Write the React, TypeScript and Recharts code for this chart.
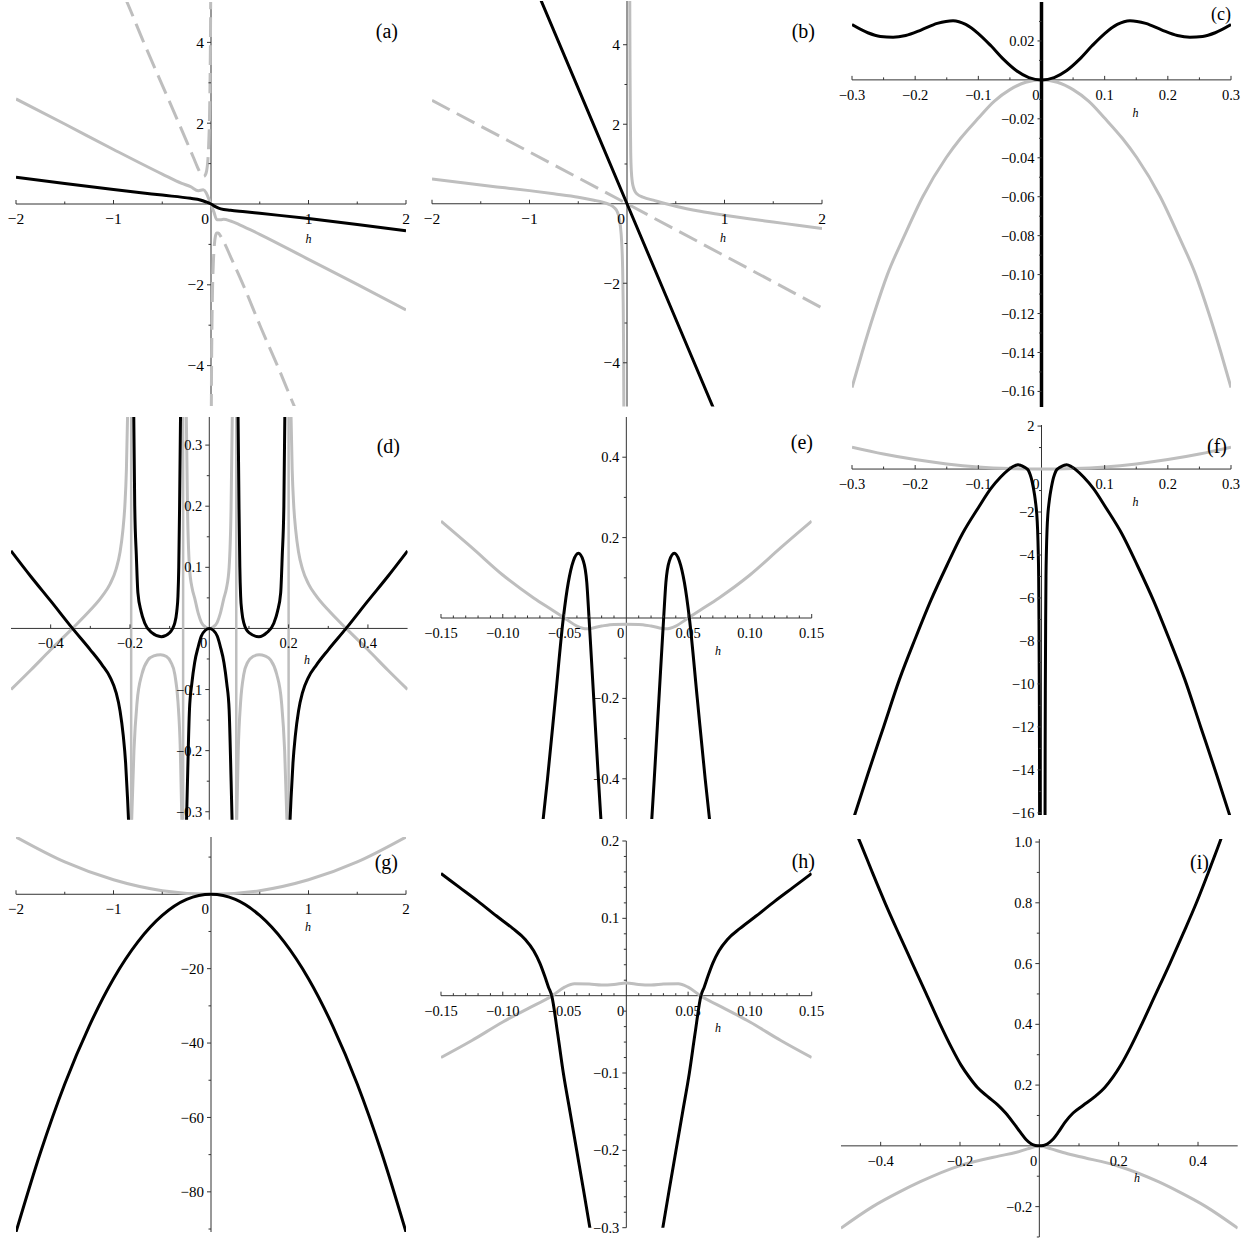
import React from 'react';
import { LineChart, Line, XAxis, YAxis, ReferenceLine } from 'recharts';

type XY = [number, number];

// ---------------- Panel (a) ----------------
const A_BLACK: XY[] = [[-2,0.66],[-1.5,0.51],[-1,0.36],[-0.5,0.22],[-0.21,0.14],[-0.11,0.1],[-0.05,0.05],[0,0],[0.05,-0.07],[0.1,-0.12],[0.2,-0.155],[0.35,-0.19],[0.5,-0.23],[1,-0.36],[1.5,-0.51],[2,-0.66]];
const A_GRAY: XY[] = [[-2,2.6],[-1.5,1.98],[-1,1.35],[-0.5,0.74],[-0.3,0.51],[-0.21,0.43],[-0.13,0.33],[-0.08,0.35],[-0.05,0.28],[-0.03,0.17],[0,0],[0.03,-0.2],[0.06,-0.39],[0.1,-0.39],[0.13,-0.38],[0.2,-0.42],[0.3,-0.52],[0.5,-0.75],[1,-1.37],[1.5,-1.99],[2,-2.62]];
const A_DASH_UP: XY[] = [[-0.88,5.1],[-0.862,5.0],[-0.69,4.0],[-0.51,3.0],[-0.33,2.0],[-0.25,1.55],[-0.18,1.15],[-0.14,0.92],[-0.11,0.77],[-0.09,0.7],[-0.075,0.68],[-0.06,0.71],[-0.045,0.82],[-0.035,1.0],[-0.025,1.4],[-0.015,2.2],[-0.009,3.2],[-0.005,4.3],[-0.003,5.2]];
const A_DASH_DN: XY[] = [[0.003,-5.2],[0.005,-4.3],[0.009,-3.2],[0.015,-2.2],[0.025,-1.4],[0.035,-1.0],[0.045,-0.8],[0.06,-0.72],[0.075,-0.72],[0.1,-0.8],[0.14,-0.98],[0.2,-1.3],[0.33,-2.0],[0.51,-3.05],[0.69,-4.05],[0.862,-5.05],[0.88,-5.15]];

// ---------------- Panel (b) ----------------
const B_BLACK: XY[] = [[-0.9,5.22],[0,0],[0.9,-5.22]];
const B_DASH: XY[] = [[-2,2.6],[0,0],[2,-2.62]];
const B_GRAY_L: XY[] = [[-2,0.62],[-1.75,0.545],[-1.5,0.47],[-1.25,0.4],[-1,0.33],[-0.75,0.25],[-0.5,0.165],[-0.34,0.09],[-0.25,0.04],[-0.2,0.0],[-0.17,-0.03],[-0.13,-0.1],[-0.1,-0.2],[-0.08,-0.36],[-0.068,-0.56],[-0.055,-0.95],[-0.045,-1.6],[-0.039,-2.5],[-0.035,-3.6],[-0.032,-5.3]];
const B_GRAY_R: XY[] = [[0.028,5.3],[0.031,3.4],[0.034,2.2],[0.038,1.3],[0.045,0.8],[0.06,0.47],[0.1,0.25],[0.17,0.16],[0.27,0.09],[0.4,0.0],[0.51,-0.07],[0.75,-0.19],[1,-0.29],[1.25,-0.38],[1.5,-0.46],[1.75,-0.54],[2,-0.62]];

// ---------------- Panel (c) ----------------
const C_BLACK: XY[] = [[-0.3,0.0284],[-0.275,0.0242],[-0.255,0.0223],[-0.235,0.0219],[-0.215,0.0228],[-0.19,0.0257],[-0.165,0.029],[-0.14,0.0304],[-0.12,0.0285],[-0.1,0.0238],[-0.08,0.0175],[-0.06,0.0105],[-0.04,0.0048],[-0.02,0.0012],[0,0],[0.02,0.0012],[0.04,0.0048],[0.06,0.0105],[0.08,0.0175],[0.1,0.0238],[0.12,0.0285],[0.14,0.0304],[0.165,0.029],[0.19,0.0257],[0.215,0.0228],[0.235,0.0219],[0.255,0.0223],[0.275,0.0242],[0.3,0.0284]];
const C_GRAY: XY[] = [[-0.3,-0.158],[-0.284,-0.14],[-0.265,-0.12],[-0.244,-0.1],[-0.217,-0.08],[-0.188,-0.06],[-0.151,-0.04],[-0.128,-0.03],[-0.101,-0.02],[-0.075,-0.011],[-0.05,-0.005],[-0.025,-0.0012],[0,0],[0.025,-0.0012],[0.05,-0.005],[0.075,-0.011],[0.101,-0.02],[0.128,-0.03],[0.151,-0.04],[0.188,-0.06],[0.217,-0.08],[0.244,-0.1],[0.265,-0.12],[0.284,-0.14],[0.3,-0.158]];
const C_VERT: XY[] = [[0,-0.17],[0,0.042]];

// ---------------- Panel (d) ----------------
const D_BLACK_L: XY[] = [[-0.5,0.127],[-0.45,0.085],[-0.4,0.045],[-0.345,0],[-0.3,-0.035],[-0.27,-0.06],[-0.25,-0.08],[-0.235,-0.105],[-0.225,-0.135],[-0.217,-0.175],[-0.211,-0.22],[-0.206,-0.28],[-0.2025,-0.33]];
const D_BLACK_R: XY[] = [[0.2025,-0.33],[0.206,-0.28],[0.211,-0.22],[0.217,-0.175],[0.225,-0.135],[0.235,-0.105],[0.25,-0.08],[0.27,-0.06],[0.3,-0.035],[0.345,0],[0.4,0.045],[0.45,0.085],[0.5,0.127]];
const D_BLACK_UL: XY[] = [[-0.1905,0.35],[-0.188,0.2],[-0.184,0.12],[-0.18,0.058],[-0.172,0.028],[-0.163,0.009],[-0.145,-0.007],[-0.121,-0.0136],[-0.1,-0.007],[-0.087,0.009],[-0.082,0.028],[-0.079,0.053],[-0.077,0.1],[-0.075,0.195],[-0.0725,0.35]];
const D_BLACK_UR: XY[] = [[0.0725,0.35],[0.075,0.195],[0.077,0.1],[0.079,0.053],[0.082,0.028],[0.087,0.009],[0.1,-0.007],[0.125,-0.0136],[0.145,-0.007],[0.163,0.009],[0.172,0.028],[0.18,0.058],[0.184,0.12],[0.188,0.2],[0.1905,0.35]];
const D_BLACK_C: XY[] = [[-0.058,-0.33],[-0.055,-0.25],[-0.05,-0.133],[-0.044,-0.09],[-0.037,-0.056],[-0.028,-0.03],[-0.02,-0.0125],[-0.01,-0.003],[0,0],[0.01,-0.003],[0.02,-0.0125],[0.028,-0.03],[0.037,-0.056],[0.044,-0.09],[0.05,-0.133],[0.055,-0.25],[0.058,-0.33]];
const D_GRAY_L: XY[] = [[-0.5,-0.1],[-0.45,-0.068],[-0.4,-0.035],[-0.345,0],[-0.3,0.03],[-0.27,0.053],[-0.25,0.073],[-0.235,0.097],[-0.225,0.125],[-0.218,0.16],[-0.213,0.2],[-0.209,0.26],[-0.206,0.35]];
const D_GRAY_R: XY[] = [[0.206,0.35],[0.209,0.26],[0.213,0.2],[0.218,0.16],[0.225,0.125],[0.235,0.097],[0.25,0.073],[0.27,0.053],[0.3,0.03],[0.345,0],[0.4,-0.035],[0.45,-0.068],[0.5,-0.1]];
const D_GRAY_HL: XY[] = [[-0.196,-0.32],[-0.19,-0.2],[-0.182,-0.12],[-0.17,-0.075],[-0.155,-0.052],[-0.14,-0.045],[-0.123,-0.043],[-0.108,-0.046],[-0.097,-0.055],[-0.087,-0.075],[-0.079,-0.12],[-0.073,-0.2],[-0.069,-0.32]];
const D_GRAY_HR: XY[] = [[0.069,-0.32],[0.073,-0.2],[0.079,-0.12],[0.087,-0.075],[0.097,-0.055],[0.11,-0.046],[0.126,-0.043],[0.14,-0.045],[0.155,-0.052],[0.17,-0.075],[0.182,-0.12],[0.19,-0.2],[0.196,-0.32]];
const D_GRAY_C: XY[] = [[-0.058,0.35],[-0.055,0.2],[-0.05,0.1],[-0.043,0.065],[-0.037,0.05],[-0.028,0.025],[-0.02,0.01],[-0.01,0.0025],[0,0],[0.01,0.0025],[0.02,0.01],[0.028,0.025],[0.037,0.05],[0.043,0.065],[0.05,0.1],[0.055,0.2],[0.058,0.35]];
const D_ASYMPTOTES: number[] = [-0.197, -0.066, 0.068, 0.2];

// ---------------- Panel (e) ----------------
const E_GRAY: XY[] = [[-0.15,0.241],[-0.125,0.175],[-0.1,0.107],[-0.075,0.05],[-0.06,0.02],[-0.05,0],[-0.04,-0.02],[-0.032,-0.027],[-0.02,-0.02],[-0.01,-0.016],[0,-0.0155],[0.01,-0.016],[0.02,-0.02],[0.032,-0.027],[0.04,-0.02],[0.05,0],[0.06,0.02],[0.075,0.05],[0.1,0.107],[0.125,0.175],[0.15,0.241]];
const E_BLACK_L: XY[] = [[-0.068,-0.52],[-0.0638,-0.4],[-0.0574,-0.2],[-0.051,0],[-0.047,0.088],[-0.0429,0.142],[-0.0388,0.161],[-0.0348,0.142],[-0.032,0.088],[-0.0302,0],[-0.0264,-0.2],[-0.0226,-0.4],[-0.0202,-0.52]];
const E_BLACK_R: XY[] = [[0.0202,-0.52],[0.0226,-0.4],[0.0264,-0.2],[0.0302,0],[0.032,0.088],[0.0348,0.142],[0.0388,0.161],[0.0429,0.142],[0.047,0.088],[0.051,0],[0.0574,-0.2],[0.0638,-0.4],[0.068,-0.52]];

// ---------------- Panel (f) ----------------
const F_GRAY: XY[] = [[-0.3,1.02],[-0.25,0.7],[-0.2,0.44],[-0.15,0.24],[-0.1,0.1],[-0.05,0.025],[0,0],[0.05,0.025],[0.1,0.1],[0.15,0.24],[0.2,0.44],[0.25,0.7],[0.3,1.02]];
const F_BLACK_L: XY[] = [[-0.298,-16.3],[-0.275,-14.2],[-0.25,-12],[-0.225,-9.8],[-0.2,-7.9],[-0.175,-6.1],[-0.15,-4.5],[-0.125,-3.0],[-0.1,-1.8],[-0.08,-0.9],[-0.065,-0.38],[-0.053,-0.05],[-0.045,0.12],[-0.037,0.2],[-0.033,0.17],[-0.028,0.1],[-0.024,0.03],[-0.021,-0.05],[-0.018,-0.25],[-0.0155,-0.5],[-0.0133,-0.81],[-0.011,-1.2],[-0.0092,-1.6],[-0.0075,-2.1],[-0.0062,-2.8],[-0.0052,-3.8],[-0.0045,-5],[-0.004,-7],[-0.0035,-10],[-0.0032,-13],[-0.003,-16.3]];
const F_BLACK_R: XY[] = [[0.0056,-16.3],[0.0058,-13],[0.0061,-10],[0.0066,-7],[0.0071,-5],[0.0078,-3.8],[0.0088,-2.8],[0.0101,-2.1],[0.0118,-1.6],[0.0136,-1.2],[0.0159,-0.81],[0.0181,-0.5],[0.0206,-0.25],[0.0236,-0.05],[0.0266,0.03],[0.0306,0.1],[0.0356,0.17],[0.0396,0.2],[0.047,0.12],[0.055,-0.05],[0.067,-0.38],[0.082,-0.9],[0.102,-1.8],[0.127,-3.0],[0.152,-4.5],[0.177,-6.1],[0.202,-7.9],[0.227,-9.8],[0.252,-12],[0.277,-14.2],[0.3,-16.3]];

// ---------------- Panel (g) ----------------
const G_GRAY: XY[] = [[-2,15.4],[-1.5,8.7],[-1,3.9],[-0.5,0.97],[0,0],[0.5,0.97],[1,3.9],[1.5,8.7],[2,15.4]];
const G_BLACK: XY[] = [[-2,-90.8],[-1.75,-69.5],[-1.5,-51],[-1.25,-35.5],[-1,-22.7],[-0.75,-12.8],[-0.5,-5.7],[-0.25,-1.4],[0,0],[0.25,-1.4],[0.5,-5.7],[0.75,-12.8],[1,-22.7],[1.25,-35.5],[1.5,-51],[1.75,-69.5],[2,-90.8]];

// ---------------- Panel (h) ----------------
const H_GRAY: XY[] = [[-0.15,-0.08],[-0.125,-0.058],[-0.1,-0.034],[-0.08,-0.017],[-0.06,0],[-0.05,0.011],[-0.042,0.0155],[-0.03,0.015],[-0.02,0.0138],[-0.01,0.0145],[0,0.0164],[0.01,0.0145],[0.02,0.0138],[0.03,0.015],[0.042,0.0155],[0.05,0.011],[0.06,0],[0.08,-0.017],[0.1,-0.034],[0.125,-0.058],[0.15,-0.08]];
const H_BLACK_L: XY[] = [[-0.15,0.158],[-0.135,0.14],[-0.12,0.122],[-0.105,0.103],[-0.092,0.087],[-0.082,0.073],[-0.075,0.058],[-0.07,0.042],[-0.066,0.025],[-0.063,0.011],[-0.0604,0],[-0.0555,-0.05],[-0.051,-0.1],[-0.0456,-0.15],[-0.0402,-0.2],[-0.0348,-0.25],[-0.029,-0.305]];
const H_BLACK_R: XY[] = [[0.029,-0.305],[0.0348,-0.25],[0.0402,-0.2],[0.0456,-0.15],[0.051,-0.1],[0.0555,-0.05],[0.0604,0],[0.063,0.011],[0.066,0.025],[0.07,0.042],[0.075,0.058],[0.082,0.073],[0.092,0.087],[0.105,0.103],[0.12,0.122],[0.135,0.14],[0.15,0.158]];

// ---------------- Panel (i) ----------------
const I_GRAY: XY[] = [[-0.5,-0.271],[-0.42,-0.2],[-0.35,-0.15],[-0.3,-0.118],[-0.2,-0.065],[-0.1,-0.033],[-0.06,-0.022],[-0.03,-0.01],[0,0],[0.03,-0.01],[0.06,-0.022],[0.1,-0.035],[0.2,-0.067],[0.3,-0.118],[0.35,-0.15],[0.42,-0.2],[0.5,-0.271]];
const I_BLACK: XY[] = [[-0.47,1.055],[-0.452,1.0],[-0.421,0.9],[-0.389,0.8],[-0.355,0.7],[-0.32,0.6],[-0.285,0.5],[-0.25,0.4],[-0.222,0.325],[-0.197,0.265],[-0.176,0.225],[-0.156,0.192],[-0.13,0.162],[-0.105,0.135],[-0.085,0.108],[-0.065,0.075],[-0.048,0.045],[-0.033,0.02],[-0.02,0.006],[-0.01,0.0012],[0,0],[0.01,0.0012],[0.02,0.006],[0.033,0.02],[0.048,0.045],[0.065,0.078],[0.085,0.108],[0.11,0.133],[0.14,0.162],[0.165,0.192],[0.185,0.225],[0.205,0.265],[0.23,0.325],[0.258,0.4],[0.29,0.49],[0.329,0.6],[0.363,0.7],[0.396,0.8],[0.426,0.9],[0.455,1.0],[0.47,1.055]];

// ---------------- Ticks ----------------
const X_MAJ_2 = [-2, -1, 0, 1, 2];
const X_MIN_2 = [-1.5, -0.5, 0.5, 1.5];
const X_MAJ_03 = [-0.3, -0.2, -0.1, 0, 0.1, 0.2, 0.3];
const X_MIN_03 = [-0.25, -0.15, -0.05, 0.05, 0.15, 0.25];
const X_MAJ_05 = [-0.4, -0.2, 0, 0.2, 0.4];
const X_MIN_05 = [-0.3, -0.1, 0.1, 0.3];
const X_MAJ_015 = [-0.15, -0.1, -0.05, 0, 0.05, 0.1, 0.15];
const X_MIN_015 = [-0.14,-0.13,-0.12,-0.11,-0.09,-0.08,-0.07,-0.06,-0.04,-0.03,-0.02,-0.01,0.01,0.02,0.03,0.04,0.06,0.07,0.08,0.09,0.11,0.12,0.13,0.14];
const Y_MAJ_A = [-4, -2, 2, 4];
const Y_MIN_A = [-3, -1, 1, 3];
const Y_MAJ_C = [0.02, -0.02, -0.04, -0.06, -0.08, -0.1, -0.12, -0.14, -0.16];
const Y_MIN_C = [0.03, 0.01, -0.01, -0.03, -0.05, -0.07, -0.09, -0.11, -0.13, -0.15];
const Y_MAJ_D = [0.3, 0.2, 0.1, -0.1, -0.2, -0.3];
const Y_MIN_D = [0.25, 0.15, 0.05, -0.05, -0.15, -0.25];
const Y_MAJ_E = [0.4, 0.2, -0.2, -0.4];
const Y_MIN_E = [0.3, 0.1, -0.1, -0.3];
const Y_MAJ_F = [2, -2, -4, -6, -8, -10, -12, -14, -16];
const Y_MIN_F = [1, -1, -3, -5, -7, -9, -11, -13, -15];
const Y_MAJ_G = [-20, -40, -60, -80];
const Y_MIN_G = [10, -10, -30, -50, -70, -90];
const Y_MAJ_H = [0.2, 0.1, -0.1, -0.2, -0.3];
const Y_MIN_H = [0.18,0.16,0.14,0.12,0.08,0.06,0.04,0.02,-0.02,-0.04,-0.06,-0.08,-0.12,-0.14,-0.16,-0.18,-0.22,-0.24,-0.26,-0.28];
const Y_MAJ_I = [1, 0.8, 0.6, 0.4, 0.2, -0.2];
const Y_MIN_I = [0.9, 0.7, 0.5, 0.3, 0.1, -0.1, -0.3];

const TAGS = ['(a)', '(b)', '(c)', '(d)', '(e)', '(f)', '(g)', '(h)', '(i)'];

// ---------------- Styling ----------------
const FONT = '"Liberation Serif", "Times New Roman", "DejaVu Serif", serif';
const BLACK = '#000000';
const GRAY = '#bebebe';
const AXIS = '#333333';
const DASH = '20 8';

type Series = { data: XY[]; color: string; width: number; dash?: string; linear?: boolean };
type Spec = {
  box: [number, number, number, number];
  xDomain: [number, number];
  yDomain: [number, number];
  xMajor: number[]; xMinor: number[];
  yMajor: number[]; yMinor: number[];
  xDec: number; yDec: number; fs: number;
  series: Series[];
  tag: [number, number, number];
  h: [number, number];
};

const g = (data: XY[], dash?: string): Series => ({ data, color: GRAY, width: 3, dash });
const k = (data: XY[]): Series => ({ data, color: BLACK, width: 3 });

const PANELS: Spec[] = [
  { box: [16, 2, 406, 406], xDomain: [-2, 2], yDomain: [-5, 5], xMajor: X_MAJ_2, xMinor: X_MIN_2, yMajor: Y_MAJ_A, yMinor: Y_MIN_A, xDec: 0, yDec: 0, fs: 15.5,
    series: [g(A_DASH_UP, DASH), g(A_DASH_DN, DASH), g(A_GRAY), k(A_BLACK)], tag: [398, 38, 20], h: [308.5, 243] },
  { box: [431.7, 1, 821.7, 406.5], xDomain: [-2, 2], yDomain: [-5.1, 5.1], xMajor: X_MAJ_2, xMinor: X_MIN_2, yMajor: Y_MAJ_A, yMinor: Y_MIN_A, xDec: 0, yDec: 0, fs: 15.5,
    series: [g(B_DASH, DASH), g(B_GRAY_L), g(B_GRAY_R), k(B_BLACK)], tag: [815, 37.5, 20], h: [723, 242] },
  { box: [852.3, 1.7, 1231.3, 406.7], xDomain: [-0.3, 0.3], yDomain: [-0.168, 0.04], xMajor: X_MAJ_03, xMinor: X_MIN_03, yMajor: Y_MAJ_C, yMinor: Y_MIN_C, xDec: 1, yDec: 2, fs: 14.5,
    series: [g(C_GRAY), k(C_BLACK), { data: C_VERT, color: BLACK, width: 3.5, linear: true }], tag: [1231, 20, 18], h: [1135.5, 117] },
  { box: [10.7, 417.3, 407.3, 820], xDomain: [-0.5, 0.5], yDomain: [-0.313, 0.346], xMajor: X_MAJ_05, xMinor: X_MIN_05, yMajor: Y_MAJ_D, yMinor: Y_MIN_D, xDec: 1, yDec: 1, fs: 14.5,
    series: [
      ...D_ASYMPTOTES.map((a): Series => ({ data: [[a, -0.313], [a, 0.346]], color: GRAY, width: 2.5, linear: true })),
      g(D_GRAY_L), g(D_GRAY_R), g(D_GRAY_HL), g(D_GRAY_HR), g(D_GRAY_C),
      k(D_BLACK_L), k(D_BLACK_R), k(D_BLACK_UL), k(D_BLACK_UR), k(D_BLACK_C)],
    tag: [400, 452.5, 20], h: [307, 664] },
  { box: [441, 417.3, 811.7, 819.3], xDomain: [-0.15, 0.15], yDomain: [-0.5, 0.5], xMajor: X_MAJ_015, xMinor: X_MIN_015, yMajor: Y_MAJ_E, yMinor: Y_MIN_E, xDec: 2, yDec: 1, fs: 14.5,
    series: [g(E_GRAY), k(E_BLACK_L), k(E_BLACK_R)], tag: [813, 449, 20], h: [718, 654.5] },
  { box: [852.3, 425, 1231.3, 815], xDomain: [-0.3, 0.3], yDomain: [-16.1, 2.05], xMajor: X_MAJ_03, xMinor: X_MIN_03, yMajor: Y_MAJ_F, yMinor: Y_MIN_F, xDec: 1, yDec: 0, fs: 14.5,
    series: [g(F_GRAY), k(F_BLACK_L), k(F_BLACK_R)], tag: [1227, 452.5, 20], h: [1135.5, 505.5] },
  { box: [16, 836.7, 406, 1231.7], xDomain: [-2, 2], yDomain: [-90.8, 15.4], xMajor: X_MAJ_2, xMinor: X_MIN_2, yMajor: Y_MAJ_G, yMinor: Y_MIN_G, xDec: 0, yDec: 0, fs: 15,
    series: [g(G_GRAY), k(G_BLACK)], tag: [398, 869, 20], h: [308, 930.5] },
  { box: [441, 841, 811.7, 1227.7], xDomain: [-0.15, 0.15], yDomain: [-0.3, 0.2], xMajor: X_MAJ_015, xMinor: X_MIN_015, yMajor: Y_MAJ_H, yMinor: Y_MIN_H, xDec: 2, yDec: 1, fs: 14.5,
    series: [g(H_GRAY), k(H_BLACK_L), k(H_BLACK_R)], tag: [815, 867.5, 20], h: [718, 1032] },
  { box: [841.3, 838.7, 1238, 1236.7], xDomain: [-0.5, 0.5], yDomain: [-0.3, 1.01], xMajor: X_MAJ_05, xMinor: X_MIN_05, yMajor: Y_MAJ_I, yMinor: Y_MIN_I, xDec: 1, yDec: 1, fs: 14.5,
    series: [g(I_GRAY), k(I_BLACK)], tag: [1209, 869, 20], h: [1137, 1182] },
];

const fmt = (v: number, d: number) => (v === 0 ? '0' : (v < 0 ? '\u2212' : '') + Math.abs(v).toFixed(d));
const near = (v: number, arr: number[]) => arr.some((m) => Math.abs(m - v) < 1e-9);

function Panel({ p }: { p: Spec }) {
  const PL = 50, PR = 20, PT = 10, PB = 30;
  const [l, t, r, b] = p.box;
  const w = r - l, h = b - t;
  const [xa, xb] = p.xDomain;
  const [ya, yb] = p.yDomain;
  const zy = PT + (yb / (yb - ya)) * h;
  const zx = PL + (-xa / (xb - xa)) * w;
  const xTicks = [...p.xMajor, ...p.xMinor].sort((m, n) => m - n);
  const yTicks = [...p.yMajor, ...p.yMinor].sort((m, n) => m - n);

  const XTick = (props: any) => {
    const { x, payload } = props;
    const v = payload.value as number;
    const major = near(v, p.xMajor);
    return (
      <g>
        {v !== 0 && <line x1={x} x2={x} y1={zy} y2={zy - (major ? 4 : 2.5)} stroke={AXIS} strokeWidth={1} />}
        {major && (
          <text x={v === 0 ? x - 2 : x} y={zy + 20} textAnchor={v === 0 ? 'end' : 'middle'} fontFamily={FONT} fontSize={p.fs} fill="#000">
            {fmt(v, p.xDec)}
          </text>
        )}
      </g>
    );
  };
  const YTick = (props: any) => {
    const { y, payload } = props;
    const v = payload.value as number;
    const major = near(v, p.yMajor);
    return (
      <g>
        <line x1={zx} x2={zx - (major ? 4 : 2.5)} y1={y} y2={y} stroke={AXIS} strokeWidth={1} />
        {major && (
          <text x={zx - 7} y={y} dy="0.35em" textAnchor="end" fontFamily={FONT} fontSize={p.fs} fill="#000">
            {fmt(v, p.yDec)}
          </text>
        )}
      </g>
    );
  };

  return (
    <div style={{ position: 'absolute', left: l - PL, top: t - PT }}>
      <LineChart width={w + PL + PR} height={h + PT + PB} margin={{ top: PT, right: PR, bottom: PB - 1, left: PL - 1 }}>
        <XAxis type="number" dataKey="x" domain={p.xDomain} allowDataOverflow ticks={xTicks} interval={0}
          tick={XTick} tickLine={false} axisLine={false} height={1} />
        <YAxis type="number" domain={p.yDomain} allowDataOverflow ticks={yTicks} interval={0}
          tick={YTick} tickLine={false} axisLine={false} width={1} />
        <ReferenceLine y={0} stroke={AXIS} strokeWidth={1} />
        <ReferenceLine x={0} stroke={AXIS} strokeWidth={1} />
        {p.series.map((s, i) => (
          <Line key={i} data={s.data.map(([x, y]) => ({ x, y }))} dataKey="y" type={s.linear ? 'linear' : 'monotone'}
            stroke={s.color} strokeWidth={s.width} strokeDasharray={s.dash} dot={false} activeDot={false}
            isAnimationActive={false} />
        ))}
      </LineChart>
    </div>
  );
}

export default function App() {
  return (
    <div style={{ position: 'absolute', left: 0, top: 0, width: 1254, height: 1238, background: '#fff', overflow: 'hidden' }}>
      {PANELS.map((p, i) => (
        <Panel key={i} p={p} />
      ))}
      <svg width={1254} height={1238} style={{ position: 'absolute', left: 0, top: 0, pointerEvents: 'none' }}>
        {PANELS.map((p, i) => (
          <g key={i}>
            <text x={p.tag[0]} y={p.tag[1]} textAnchor="end" fontFamily={FONT} fontSize={p.tag[2]} fill="#000">{TAGS[i]}</text>
            <text x={p.h[0]} y={p.h[1]} textAnchor="middle" fontFamily={FONT} fontStyle="italic" fontSize={12} fill="#000">h</text>
          </g>
        ))}
      </svg>
    </div>
  );
}
